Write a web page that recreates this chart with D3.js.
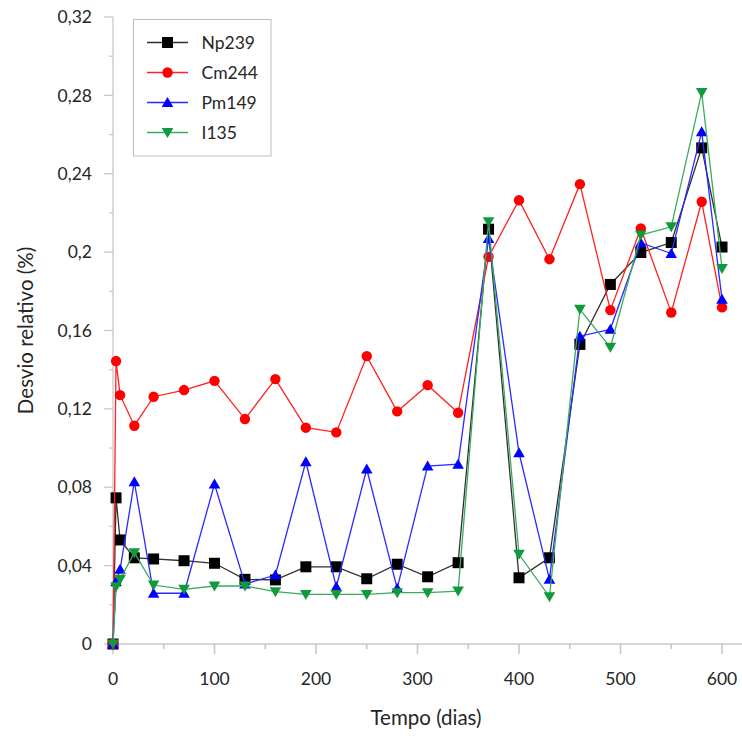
<!DOCTYPE html>
<html>
<head>
<meta charset="utf-8">
<script src="https://cdn.jsdelivr.net/npm/d3@7"></script>
<style>
  html, body { margin: 0; padding: 0; background: #fff; }
  svg { display: block; font-family: Lato, "Open Sans", sans-serif; }
</style>
</head>
<body>
<svg id="chart" width="742" height="736"></svg>
<script>
// Time (days) of each calculation step
const days = [0, 3, 7, 21, 40, 70, 100, 130, 160, 190, 220, 250, 280, 310, 340,
              370, 400, 430, 460, 490, 520, 550, 580, 600];

// Relative deviation (%) per nuclide
const np239 = [0, 0.0746, 0.0531, 0.0440, 0.0434, 0.0425, 0.0412, 0.0330, 0.0327, 0.0394,
               0.0394, 0.0333, 0.0407, 0.0343, 0.0415, 0.2117, 0.0338, 0.0440, 0.1529,
               0.1835, 0.1998, 0.2049, 0.2532, 0.2026];
const cm244 = [0, 0.1444, 0.1270, 0.1114, 0.1262, 0.1296, 0.1343, 0.1148, 0.1352, 0.1104,
               0.1080, 0.1469, 0.1187, 0.1321, 0.1180, 0.1976, 0.2265, 0.1964, 0.2347,
               0.1704, 0.2121, 0.1692, 0.2257, 0.1718];
const pm149 = [0, 0.0318, 0.0381, 0.0828, 0.0259, 0.0259, 0.0816, 0.0306, 0.0352, 0.0930,
               0.0292, 0.0893, 0.0284, 0.0908, 0.0918, 0.2070, 0.0976, 0.0330, 0.1571,
               0.1606, 0.2048, 0.1993, 0.2614, 0.1759];
const i135  = [0, 0.0292, 0.0330, 0.0466, 0.0301, 0.0279, 0.0296, 0.0296, 0.0267, 0.0253,
               0.0253, 0.0253, 0.0262, 0.0262, 0.0270, 0.2155, 0.0458, 0.0241, 0.1708,
               0.1514, 0.2087, 0.2129, 0.2815, 0.1917];

const seriesNames = ["Np239", "Cm244", "Pm149", "I135"];
const yTickValues = [0, 0.04, 0.08, 0.12, 0.16, 0.2, 0.24, 0.28, 0.32];
const xTickValues = [0, 100, 200, 300, 400, 500, 600];

const series = [
  { name: seriesNames[0], values: np239, line: "#303030", fill: "#000000", shape: "square" },
  { name: seriesNames[1], values: cm244, line: "#ff2020", fill: "#ff0000", shape: "circle" },
  { name: seriesNames[2], values: pm149, line: "#2a2aff", fill: "#0000ff", shape: "up" },
  { name: seriesNames[3], values: i135,  line: "#3aaa60", fill: "#109a3c", shape: "down" }
];

const svg = d3.select("#chart");
const axisColor = "#c8c8c8";
const fontSize = 17.5;

const x = d3.scaleLinear().domain([0, 600]).range([113, 722]);
const y = d3.scaleLinear().domain([0, 0.32]).range([644, 17]);

const fmt = v => (v === 0 ? "0" : d3.format(".2~f")(v).replace(".", ","));

// Y axis: line, major ticks with labels, minor ticks halfway
const yAxis = svg.append("g");
yAxis.append("line")
  .attr("x1", x(0)).attr("x2", x(0))
  .attr("y1", y(0.32)).attr("y2", y(0))
  .attr("stroke", axisColor).attr("stroke-width", 1.3);
yAxis.selectAll(".major").data(yTickValues).join("line")
  .attr("x1", x(0) - 9).attr("x2", x(0))
  .attr("y1", d => y(d)).attr("y2", d => y(d))
  .attr("stroke", axisColor).attr("stroke-width", 1.3);
yAxis.selectAll(".minor").data(d3.range(0.02, 0.32, 0.04)).join("line")
  .attr("x1", x(0) - 4).attr("x2", x(0))
  .attr("y1", d => y(d)).attr("y2", d => y(d))
  .attr("stroke", axisColor).attr("stroke-width", 1.3);
yAxis.selectAll("text").data(yTickValues).join("text")
  .attr("x", 92).attr("y", d => y(d))
  .attr("dy", "0.35em")
  .attr("text-anchor", "end")
  .attr("font-size", fontSize)
  .attr("fill", "#262626")
  .text(fmt);

// X axis: line to the right edge, ticks every 50 days, labels every 100
const xAxis = svg.append("g");
xAxis.append("line")
  .attr("x1", x(0) - 5).attr("x2", 742)
  .attr("y1", y(0)).attr("y2", y(0))
  .attr("stroke", axisColor).attr("stroke-width", 1.3);
xAxis.selectAll(".tick").data(d3.range(0, 601, 50)).join("line")
  .attr("x1", d => x(d)).attr("x2", d => x(d))
  .attr("y1", y(0)).attr("y2", d => y(0) + (d % 100 === 0 ? 10 : 5))
  .attr("stroke", axisColor).attr("stroke-width", 1.6);
xAxis.selectAll("text").data(xTickValues).join("text")
  .attr("x", d => x(d)).attr("y", 685)
  .attr("text-anchor", "middle")
  .attr("font-size", fontSize)
  .attr("fill", "#262626")
  .text(d => d);

// Axis titles
svg.append("text")
  .attr("x", 426).attr("y", 725)
  .attr("text-anchor", "middle")
  .attr("font-size", 20.5)
  .attr("fill", "#262626")
  .text("Tempo (dias)");
svg.append("text")
  .attr("transform", `translate(33, ${(y(0) + y(0.32)) / 2}) rotate(-90)`)
  .attr("text-anchor", "middle")
  .attr("font-size", 20.5)
  .attr("fill", "#262626")
  .text("Desvio relativo (%)");

// Marker shapes
function marker(sel, shape, fill) {
  if (shape === "square") {
    sel.append("rect").attr("x", -5.5).attr("y", -5.5).attr("width", 11).attr("height", 11)
      .attr("fill", fill);
  } else if (shape === "circle") {
    sel.append("circle").attr("r", 5.2).attr("fill", fill);
  } else if (shape === "up") {
    sel.append("path").attr("d", "M0,-5.5L5.8,4.5L-5.8,4.5Z").attr("fill", fill);
  } else {
    sel.append("path").attr("d", "M0,5.5L5.8,-4.5L-5.8,-4.5Z").attr("fill", fill);
  }
}

const line = d3.line().x(d => x(d[0])).y(d => y(d[1]));

// Each series: connecting line then markers
series.forEach(s => {
  const pts = days.map((d, i) => [d, s.values[i]]);
  const g = svg.append("g");
  g.append("path")
    .attr("d", line(pts))
    .attr("fill", "none")
    .attr("stroke", s.line)
    .attr("stroke-width", 1.3);
  g.selectAll("g").data(pts).join("g")
    .attr("transform", d => `translate(${x(d[0])},${y(d[1])})`)
    .each(function () { marker(d3.select(this), s.shape, s.fill); });
});

// Legend
const legend = svg.append("g");
legend.append("rect")
  .attr("x", 133.5).attr("y", 19.5).attr("width", 137.5).attr("height", 136.5)
  .attr("fill", "#fff").attr("stroke", "#bdbdbd").attr("stroke-width", 1);
series.forEach((s, i) => {
  const cy = 42.5 + i * 30;
  const row = legend.append("g");
  row.append("line")
    .attr("x1", 147).attr("x2", 188).attr("y1", cy).attr("y2", cy)
    .attr("stroke", s.line).attr("stroke-width", 1.3);
  const m = row.append("g").attr("transform", `translate(167.5,${cy})`);
  marker(m, s.shape, s.fill);
  row.append("text")
    .attr("x", 201.5).attr("y", cy).attr("dy", "0.36em")
    .attr("font-size", fontSize)
    .attr("fill", "#262626")
    .text(s.name);
});
</script>
</body>
</html>
